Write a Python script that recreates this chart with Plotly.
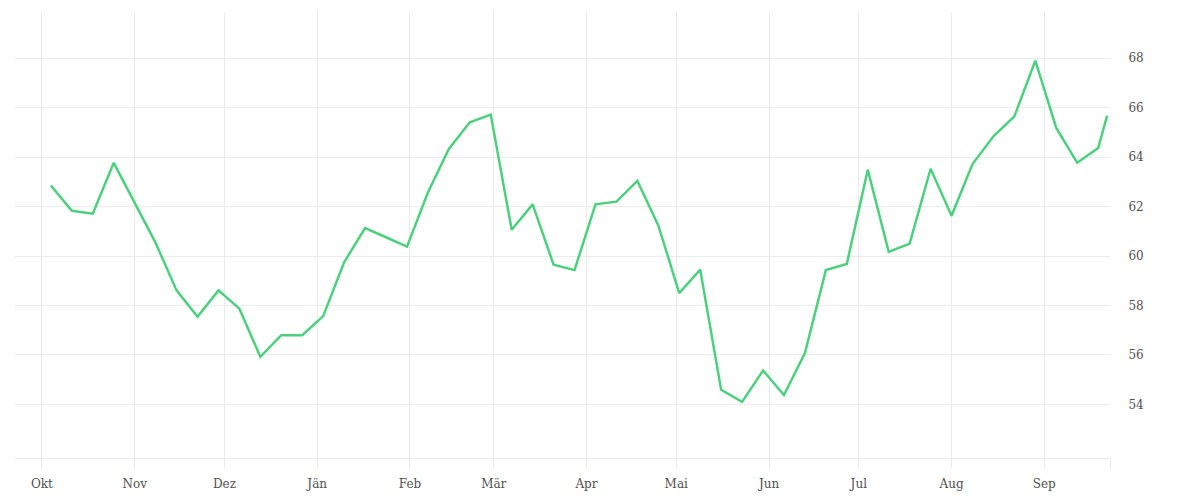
import plotly.graph_objects as go

# weekly values, last point is the partial current week
dates = [
    "2022-10-04", "2022-10-11", "2022-10-18", "2022-10-25",
    "2022-11-01", "2022-11-08", "2022-11-15", "2022-11-22", "2022-11-29",
    "2022-12-06", "2022-12-13", "2022-12-20", "2022-12-27",
    "2023-01-03", "2023-01-10", "2023-01-17", "2023-01-24", "2023-01-31",
    "2023-02-07", "2023-02-14", "2023-02-21", "2023-02-28",
    "2023-03-07", "2023-03-14", "2023-03-21", "2023-03-28",
    "2023-04-04", "2023-04-11", "2023-04-18", "2023-04-25",
    "2023-05-02", "2023-05-09", "2023-05-16", "2023-05-23", "2023-05-30",
    "2023-06-06", "2023-06-13", "2023-06-20", "2023-06-27",
    "2023-07-04", "2023-07-11", "2023-07-18", "2023-07-25",
    "2023-08-01", "2023-08-08", "2023-08-15", "2023-08-22", "2023-08-29",
    "2023-09-05", "2023-09-12", "2023-09-19", "2023-09-22",
]
values = [
    62.85, 61.83, 61.71, 63.77,
    62.15, 60.53, 58.61, 57.54, 58.61,
    57.87, 55.92, 56.80, 56.80,
    57.57, 59.75, 61.13, 60.76, 60.38,
    62.57, 64.33, 65.41, 65.72,
    61.06, 62.09, 59.65, 59.43,
    62.09, 62.20, 63.04, 61.24,
    58.50, 59.45, 54.59, 54.10, 55.37,
    54.38, 56.07, 59.43, 59.68,
    63.49, 60.17, 60.50, 63.53,
    61.63, 63.72, 64.84, 65.65, 67.90,
    65.18, 63.77, 64.37, 65.68,
]

# month ticks (German), plus an unlabeled tick at the right end
month_ticks = [
    "2022-10-01", "2022-11-01", "2022-12-01", "2023-01-01", "2023-02-01",
    "2023-03-01", "2023-04-01", "2023-05-01", "2023-06-01", "2023-07-01",
    "2023-08-01", "2023-09-01", "2023-09-22 23:00",
]
month_labels = ["Okt", "Nov", "Dez", "Jän", "Feb", "Mär", "Apr", "Mai",
                "Jun", "Jul", "Aug", "Sep", ""]

y_ticks = [54, 56, 58, 60, 62, 64, 66, 68]

grid = "#ebebeb"

# page body has an 8px margin, so margins are trimmed by that much
fig = go.Figure(
    data=[go.Scatter(x=dates, y=values,
                     mode="lines",
                     line=dict(color="#4cd07d", width=2.5),
                     showlegend=False)],
    layout=go.Layout(width=1200, height=500,
                     margin=dict(l=7, r=98, t=4, b=50),
                     plot_bgcolor="white",
                     paper_bgcolor="white",
                     font=dict(family="DejaVu Serif, serif", size=12, color="#505050"))
)

fig.update_xaxes(
    range=["2022-09-22", "2023-09-22 23:00"],
    tickvals=month_ticks,
    ticktext=month_labels,
    showgrid=True,
    gridcolor=grid,
    gridwidth=1,
    ticks="outside",
    ticklen=10,
    tickcolor=grid,
    ticklabelstandoff=5,
    showline=True,
    linecolor=grid,
    linewidth=1,
    zeroline=False,
)
fig.update_yaxes(
    range=[51.83, 69.87],
    side="right",
    tickvals=y_ticks,
    showgrid=True,
    gridcolor=grid,
    gridwidth=1,
    ticks="outside",
    ticklen=15,
    tickcolor="rgba(0,0,0,0)",
    zeroline=False,
)

fig.write_html("out.html")
